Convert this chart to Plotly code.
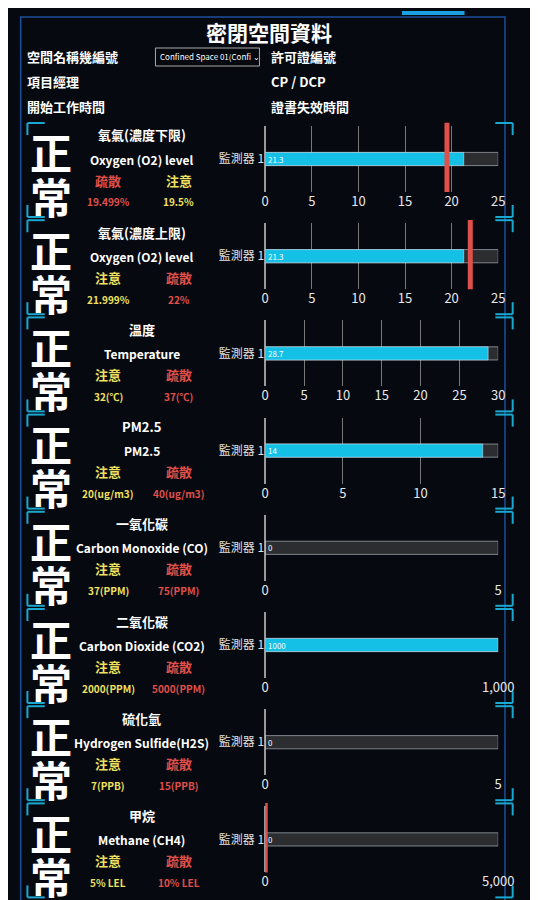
import plotly.graph_objects as go

# 各感測項目
names_zh = ["氧氣(濃度下限)", "氧氣(濃度上限)", "溫度", "PM2.5", "一氧化碳", "二氧化碳", "硫化氫", "甲烷"]
names_en = ["Oxygen (O2) level", "Oxygen (O2) level", "Temperature", "PM2.5",
            "Carbon Monoxide (CO)", "Carbon Dioxide (CO2)", "Hydrogen Sulfide(H2S)", "Methane (CH4)"]
left_lbl = ["疏散", "注意", "注意", "注意", "注意", "注意", "注意", "注意"]
right_lbl = ["注意", "疏散", "疏散", "疏散", "疏散", "疏散", "疏散", "疏散"]
left_val = ["19.499%", "21.999%", "32(℃)", "20(ug/m3)", "37(PPM)", "2000(PPM)", "7(PPB)", "5% LEL"]
right_val = ["19.5%", "22%", "37(℃)", "40(ug/m3)", "75(PPM)", "5000(PPM)", "15(PPB)", "10% LEL"]
readings = [21.3, 21.3, 28.7, 14, 0, 1000, 0, 0]
axis_max = [25, 25, 30, 15, 5, 1000, 5, 5000]
axis_dtick = [5, 5, 5, 5, 5, 1000, 5, 5000]
limit_line = [19.5, 22, None, None, None, None, None, 0]

RED = "#e0504a"
YEL = "#f0e060"
CYAN = "#14c0e6"
W, H = 538, 900

fig = go.Figure()
X0, X1 = 263 / W, 505 / W


def txt(x, y, s, size=13, anchor="center", color="white"):
    fig.add_annotation(x=x / W, y=1 - y / H, text=s, showarrow=False, xref="paper", yref="paper",
                       xanchor=anchor, yanchor="middle", font=dict(color=color, size=size))


for i in range(8):
    top = 118 + i * 97.2
    bot = top + 66
    ya = dict(domain=[1 - bot / H, 1 - top / H], range=[-0.5, 0.5], showgrid=False,
              tickvals=[0], ticktext=["監測器 1"], tickfont=dict(color="#e0e0e0", size=12),
              zeroline=False, showline=False, ticks="")
    xa = dict(domain=[X0, X1], range=[0, axis_max[i]], dtick=axis_dtick[i], tickformat=",",
              showgrid=True, gridcolor="#777", gridwidth=1, zeroline=True, zerolinecolor="#999",
              tickfont=dict(color="#e8e8e8", size=13), anchor=f"y{i+1}" if i else "y",
              fixedrange=True)
    ya["anchor"] = f"x{i+1}" if i else "x"
    fig.layout[f"xaxis{i+1 if i else ''}"] = xa
    fig.layout[f"yaxis{i+1 if i else ''}"] = ya
    xr = f"x{i+1}" if i else "x"
    yr = f"y{i+1}" if i else "y"
    fig.add_trace(go.Bar(x=[axis_max[i]], y=[0], orientation="h", width=0.2,
                         marker_color="#2b2d30", xaxis=xr, yaxis=yr, hoverinfo="skip"))
    fig.add_trace(go.Bar(x=[readings[i]], y=[0], orientation="h", width=0.2,
                         marker_color=CYAN, xaxis=xr, yaxis=yr, base=0))
    fig.add_annotation(x=0, y=0, xref=xr, yref=yr, text=f"{readings[i]:g}", showarrow=False,
                       xanchor="left", yanchor="middle", xshift=1, font=dict(color="white", size=8))
    if limit_line[i] is not None:
        fig.add_shape(type="line", xref=xr, yref=f"{yr} domain", x0=limit_line[i], x1=limit_line[i],
                      y0=0, y1=1.05, line=dict(color=RED, width=5))

    # 左側文字
    ptop = top - 3
    txt(40, ptop + 28, "<b>正</b>", size=42)
    txt(40, ptop + 72, "<b>常</b>", size=42)
    txt(135, ptop + 12, f"<b>{names_zh[i]}</b>", size=13)
    txt(135, ptop + 36, f"<b>{names_en[i]}</b>", size=12)
    lc = RED if left_lbl[i] == "疏散" else YEL
    rc = RED if right_lbl[i] == "疏散" else YEL
    txt(100, ptop + 57, f"<b>{left_lbl[i]}</b>", size=13, color=lc)
    txt(173, ptop + 57, f"<b>{right_lbl[i]}</b>", size=13, color=rc)
    txt(100, ptop + 79, f"<b>{left_val[i]}</b>", size=10, color=lc)
    txt(173, ptop + 79, f"<b>{right_val[i]}</b>", size=10, color=rc)
    # 角框
    for (xa0, xa1, yy, yv) in [(16, 34, ptop, ptop + 12), (16, 34, ptop + 94, ptop + 82),
                                (502, 520, ptop, ptop + 12), (502, 520, ptop + 94, ptop + 82)]:
        fig.add_shape(type="line", xref="paper", yref="paper", x0=xa0 / W, x1=xa1 / W,
                      y0=1 - yy / H, y1=1 - yy / H, line=dict(color="#1aa8d0", width=2))
        xv = xa0 if xa0 < 100 else xa1
        fig.add_shape(type="line", xref="paper", yref="paper", x0=xv / W, x1=xv / W,
                      y0=1 - yy / H, y1=1 - yv / H, line=dict(color="#1aa8d0", width=2))

# 標題與表頭
txt(267, 24, "<b>密閉空間資料</b>", size=21)
txt(14, 49, "<b>空間名稱幾編號</b>", anchor="left")
txt(267, 49, "<b>許可證編號</b>", anchor="left")
txt(14, 74, "<b>項目經理</b>", anchor="left")
txt(267, 74, "<b>CP / DCP</b>", anchor="left")
txt(14, 99, "<b>開始工作時間</b>", anchor="left")
txt(267, 99, "<b>證書失效時間</b>", anchor="left")
fig.add_shape(type="rect", xref="paper", yref="paper", x0=149 / W, x1=257 / W,
              y0=1 - 58 / H, y1=1 - 40 / H, line=dict(color="#aaa", width=1), fillcolor="#05080c")
txt(152, 49, "Confined Space 01(Confi ⌄", size=8, anchor="left")

# 外框
fig.add_shape(type="rect", xref="paper", yref="paper", x0=9 / W, x1=512 / W, y0=1 - 896 / H,
              y1=1 - 9 / H, line=dict(color="#1d4f9a", width=1.5), layer="below")
fig.add_shape(type="line", xref="paper", yref="paper", x0=405 / W, x1=470 / W, y0=1 - 5 / H,
              y1=1 - 5 / H, line=dict(color="#1aa0e0", width=4))

fig.update_layout(width=W, height=H, margin=dict(l=0, r=0, t=0, b=0), showlegend=False,
                  barmode="overlay", paper_bgcolor="#06090f", plot_bgcolor="rgba(0,0,0,0)",
                  font=dict(family="Noto Sans CJK TC, Noto Sans"))
fig.write_html("out.html")
